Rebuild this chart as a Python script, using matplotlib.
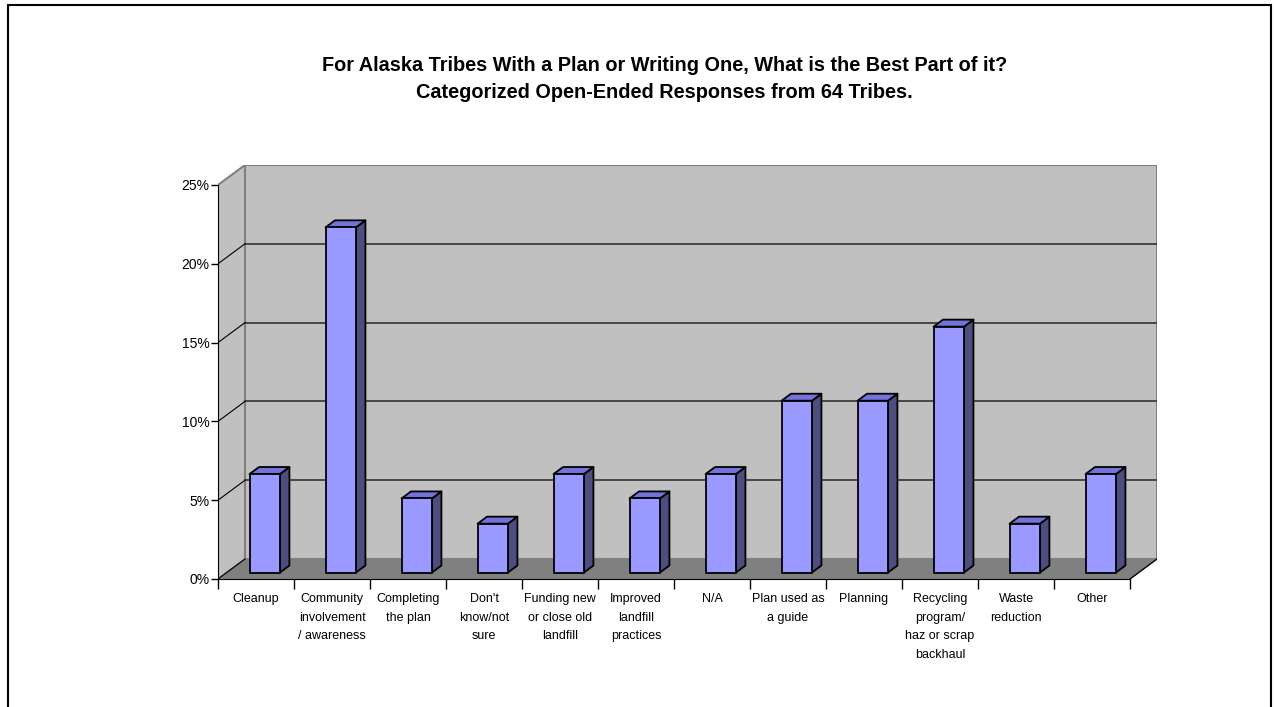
import matplotlib.pyplot as plt
from matplotlib.patches import Polygon, Rectangle
from matplotlib.ticker import FuncFormatter

plt.rcParams['font.family'] = ['Liberation Sans', 'DejaVu Sans']

categories = [
    "Cleanup",
    "Community\ninvolvement\n/ awareness",
    "Completing\nthe plan",
    "Don't\nknow/not\nsure",
    "Funding new\nor close old\nlandfill",
    "Improved\nlandfill\npractices",
    "N/A",
    "Plan used as\na guide",
    "Planning",
    "Recycling\nprogram/\nhaz or scrap\nbackhaul",
    "Waste\nreduction",
    "Other",
]
percents = [6.25, 21.9, 4.7, 3.1, 6.25, 4.7, 6.25, 10.9, 10.9, 15.6, 3.1, 6.25]
yticks = [0, 5, 10, 15, 20, 25]

title = ("For Alaska Tribes With a Plan or Writing One, What is the Best Part of it?\n"
         "Categorized Open-Ended Responses from 64 Tribes.")

# oblique depth offset of the back wall, in data units (categories, percent)
DX = 0.355
DY = 1.266
YMAX = 25

front_col = '#9999FF'
top_col = '#7373D9'
side_col = '#4D4D80'
wall_col = '#C0C0C0'
floor_col = '#808080'


def proj(x, y, d):
    return (x + d * DX, y + d * DY)


fig = plt.figure(figsize=(12.75, 7.07), dpi=100)
ax = fig.add_axes([218 / 1275, (707 - 579) / 707, 939 / 1275, 414 / 707])
ax.patch.set_visible(False)
n = len(categories)
ax.set_xlim(0, n + DX)
ax.set_ylim(0, YMAX + DY)

# back wall, floor and side wall
ax.add_patch(Polygon([proj(0, 0, 1), proj(n, 0, 1), proj(n, YMAX, 1), proj(0, YMAX, 1)],
                     closed=True, fc=wall_col, ec='#808080', lw=1.5, zorder=1))
ax.add_patch(Polygon([proj(0, 0, 0), proj(0, YMAX, 0), proj(0, YMAX, 1), proj(0, 0, 1)],
                     closed=True, fc=wall_col, ec='#808080', lw=1.5, zorder=1))
ax.add_patch(Polygon([proj(0, 0, 0), proj(n, 0, 0), proj(n, 0, 1), proj(0, 0, 1)],
                     closed=True, fc=floor_col, ec='none', zorder=2))
ax.plot(*zip(proj(n, 0, 0), proj(n, 0, 1)), color='black', lw=1, zorder=3)

for t in yticks:
    a, b = proj(0, t, 0), proj(0, t, 1)
    if t != YMAX:
        ax.plot([a[0], b[0]], [a[1], b[1]], color='black', lw=0.8, zorder=3)
    if 0 < t < YMAX:
        c = proj(n, t, 1)
        ax.plot([b[0], c[0]], [b[1], c[1]], color='#333333', lw=1.2, zorder=1.5)

# 3-D style bars
w = 0.4
d0, d1 = 0.325, 0.675
for i, v in enumerate(percents):
    x0, x1 = i + (1 - w) / 2, i + (1 + w) / 2
    front = [proj(x0, 0, d0), proj(x1, 0, d0), proj(x1, v, d0), proj(x0, v, d0)]
    side = [proj(x1, 0, d0), proj(x1, 0, d1), proj(x1, v, d1), proj(x1, v, d0)]
    top = [proj(x0, v, d0), proj(x1, v, d0), proj(x1, v, d1), proj(x0, v, d1)]
    for pts, col in ((side, side_col), (top, top_col), (front, front_col)):
        ax.add_patch(Polygon(pts, closed=True, fc=col, ec='black', lw=1.3,
                             joinstyle='round', zorder=5))

# axes
for s in ('top', 'right'):
    ax.spines[s].set_visible(False)
ax.spines['left'].set_bounds(0, YMAX)
ax.spines['bottom'].set_bounds(0, n)
ax.spines['left'].set_zorder(6)
ax.spines['bottom'].set_zorder(6)
ax.set_yticks(yticks)
ax.yaxis.set_major_formatter(FuncFormatter(lambda v, _: f"{v:.0f}%"))
ax.tick_params(axis='y', length=5, width=1, labelsize=10, pad=1)
ax.set_xticks(range(n + 1))
ax.set_xticklabels([])
ax.set_xticks([i + 0.5 for i in range(n)], minor=True)
ax.set_xticklabels(categories, minor=True, fontsize=9, linespacing=1.75, va='top')
ax.tick_params(axis='x', which='major', length=7, width=1)
ax.tick_params(axis='x', which='minor', length=0, pad=10)

fig.text(0.521, 1 - 79 / 707, title, ha='center', va='center', fontsize=14.3,
         fontweight='bold', linespacing=1.5)

fig.patches.append(Rectangle((8 / 1275, -0.02), 1263 / 1275, 1.02 - 5 / 707,
                             transform=fig.transFigure, fill=False, ec='black', lw=1.5))

fig.savefig('out.png', dpi=100)
